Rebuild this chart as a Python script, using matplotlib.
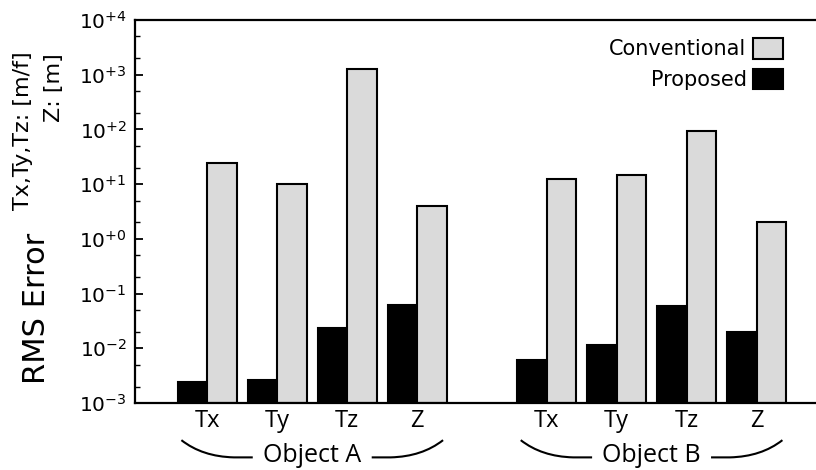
import matplotlib
matplotlib.use("Agg")
import matplotlib.pyplot as plt
import numpy as np
from matplotlib.path import Path
from matplotlib.patches import PathPatch
from matplotlib.ticker import LogLocator, FixedLocator, NullFormatter

# ---- data ----
objects = ["Object A", "Object B"]
categories = ["Tx", "Ty", "Tz", "Z"]
proposed_A = [0.00245, 0.0026, 0.023, 0.061]
conventional_A = [24.0, 10.0, 1260.0, 4.0]
proposed_B = [0.0061, 0.0114, 0.059, 0.020]
conventional_B = [12.4, 14.8, 95.0, 2.07]
ytick_exps = [-3, -2, -1, 0, 1, 2, 3, 4]

plt.rcParams['mathtext.default'] = 'regular'

fig = plt.figure(figsize=(8.16, 4.70), dpi=100)
ax = fig.add_axes([135/816, 1-403/470, 1-135/816, 383/470])

ymin, ymax = 1e-3, 1e4
w = 0.42
group_gap = 4.85
posA = np.arange(len(categories), dtype=float)
posB = posA + group_gap
pos = np.concatenate([posA, posB])
prop = np.array(proposed_A + proposed_B)
conv = np.array(conventional_A + conventional_B)

ax.set_yscale('log')
ax.bar(pos, prop - ymin, bottom=ymin, width=-w, align='edge', color='black',
       edgecolor='black', linewidth=1.5, label='Proposed', zorder=2)
ax.bar(pos, conv - ymin, bottom=ymin, width=w, align='edge', color='#dadada',
       edgecolor='black', linewidth=1.5, label='Conventional', zorder=2)

ax.set_ylim(ymin, ymax)
ax.set_xlim(-1.033, 8.70)

ax.yaxis.set_major_locator(FixedLocator([10.0**e for e in ytick_exps]))
ax.set_yticklabels(['$10^{%s%d}$' % ('-' if e < 0 else '+', abs(e)) for e in ytick_exps])
ax.yaxis.set_minor_locator(LogLocator(base=10, subs=[2, 5], numticks=20))
ax.yaxis.set_minor_formatter(NullFormatter())
ax.tick_params(axis='y', which='major', direction='in', length=6, width=1.3,
               labelsize=14.5, pad=6)
ax.tick_params(axis='y', which='minor', direction='in', length=3.5, width=1.0)

ax.set_xticks(pos)
ax.set_xticklabels(categories * 2, fontfamily='Open Sans', fontsize=17)
ax.tick_params(axis='x', length=0, pad=4)

for s in ['left', 'bottom', 'top']:
    ax.spines[s].set_linewidth(1.6)
ax.spines['right'].set_visible(False)

# legend
h, l = ax.get_legend_handles_labels()
ax.legend(h[::-1], l[::-1], loc='upper right', bbox_to_anchor=(783/816, 1-38/470),
          bbox_transform=fig.transFigure, frameon=False, markerfirst=False,
          fontsize=15, handlelength=1.45, handleheight=1.15, handletextpad=0.3,
          labelspacing=0.45, borderpad=0, borderaxespad=0)

# group labels with brace-like curves
tr = ax.get_xaxis_transform()
y_hi, y_lo = -0.097, -0.142
for name, grp in zip(objects, [posA, posB]):
    mid = (grp[0] + grp[-1]) / 2
    x0 = grp[0] - 0.37
    x1 = grp[-1] + 0.37
    ax.text(mid, (y_lo + 0.004), name, transform=tr, ha='center', va='center',
            fontfamily='Open Sans', fontsize=18, clip_on=False)
    gapL = mid - 0.85
    gapR = mid + 0.85
    verts = [(x0, y_hi), (x0 + 0.3, y_lo + 0.002), (x0 + 0.75, y_lo), (gapL, y_lo)]
    codes = [Path.MOVETO, Path.CURVE3, Path.CURVE3, Path.LINETO]
    ax.add_patch(PathPatch(Path(verts, codes), transform=tr, fill=False,
                           lw=1.5, color='black', clip_on=False))
    verts = [(gapR, y_lo), (x1 - 0.75, y_lo), (x1 - 0.3, y_lo + 0.002), (x1, y_hi)]
    codes = [Path.MOVETO, Path.LINETO, Path.CURVE3, Path.CURVE3]
    ax.add_patch(PathPatch(Path(verts, codes), transform=tr, fill=False,
                           lw=1.5, color='black', clip_on=False))

# y label pieces
fig.text(37/816, 1-308/470, 'RMS Error', rotation=90, ha='center', va='center',
         fontsize=22)
fig.text(23/816, 1-131/470, 'Tx,Ty,Tz: [m/f]', rotation=90, ha='center',
         va='center', fontsize=16)
fig.text(54/816, 1-88/470, 'Z: [m]', rotation=90, ha='center', va='center',
         fontsize=16)

fig.savefig('out.png', dpi=100)
